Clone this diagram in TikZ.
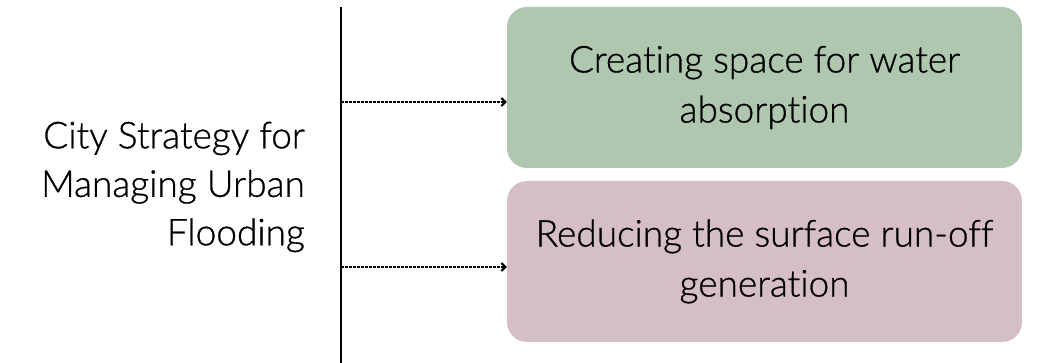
\documentclass[tikz,border=0pt]{standalone}
\usepackage{fontspec}
\setmainfont{Lato Light}[Ligatures=NoCommon,FakeBold=0.8]
\usetikzlibrary{arrows.meta}
\definecolor{boxgreen}{HTML}{AEC7AE}
\definecolor{boxpink}{HTML}{D5BEC4}
\begin{document}
\begin{tikzpicture}[x=1pt,y=-1pt,
  box/.style={rounded corners=20pt, inner sep=0pt, minimum width=515pt, minimum height=161pt, align=center, font=\fontsize{37}{50}\selectfont},
  conn/.style={dash pattern=on 2.5pt off 1.5pt, line width=2pt, -{Straight Barb[length=4pt,width=8pt,line width=2pt]}}]
\useasboundingbox (0,0) rectangle (1054,363);
\node[box, fill=boxgreen] (g) at (764.5,87.5) {Creating space for water\\absorption};
\node[box, fill=boxpink] (p) at (764.5,261.5) {Reducing the surface run-off\\generation};
\coordinate (lt) at (341,7);
\coordinate (lb) at (341,363);
\draw[line width=2pt] (lt) -- (lb);
\coordinate (a1) at (341,102);
\coordinate (a2) at (341,267);
\draw[conn] (a1) -- (a1 -| g.west);
\draw[conn] (a2) -- (a2 -| p.west);
\node[anchor=east, align=right, inner sep=0pt, font=\fontsize{37}{48.5}\selectfont] (t) at (305,187) {City Strategy for\\Managing Urban\\Flooding};
\end{tikzpicture}
\end{document}
